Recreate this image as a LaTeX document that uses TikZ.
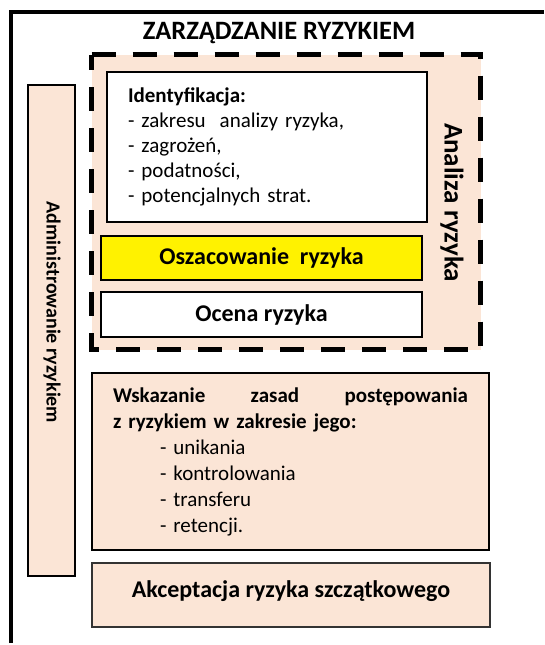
\documentclass[tikz,border=0pt]{standalone}
\usepackage{fontspec}
\setmainfont{Carlito}
\definecolor{peach}{HTML}{FBE5D6}
\begin{document}
\begin{tikzpicture}[x=1pt, y=-1pt,
		box/.style={draw=black, line width=1.5pt, inner sep=0pt},
		body/.style={font=\fontsize{21}{25}\selectfont},
		head/.style={font=\bfseries\fontsize{24}{28}\selectfont}]
		% Page
		\useasboundingbox (0,0) rectangle (544,645);
		
		% Outer frame
		\draw[line width=4.5pt] (11,643) -- (11,12) -- (544,12);
		\node[font=\bfseries\fontsize{26.5}{30}\selectfont] (title) at (279,33.5) {ZARZĄDZANIE RYZYKIEM};
		
		% Risk analysis area
		\draw[fill=peach, line width=5.5pt, dash pattern=on 24pt off 17pt]
		(91.5,54.5) -- (480.5,54.5) -- (480.5,349.5) -- (91.5,349.5) -- cycle;
		\node[box, fill=white, minimum width=320pt, minimum height=150pt,
		text width=278pt, align=left, body] (ident) at (267,147)
		{\textbf{Identyfikacja:}\\- zakresu\ \ analizy ryzyka,\\- zagrożeń,\\- podatności,\\- potencjalnych strat.};
		\node[box, fill=yellow, minimum width=321pt, minimum height=44pt, head] (oszac) at (261.5,258) {Oszacowanie\ \ ryzyka};
		\node[box, fill=white, minimum width=321pt, minimum height=45pt, head] (ocena) at (261.5,314.5) {Ocena ryzyka};
		\node[rotate=-90, font=\bfseries\fontsize{27}{30}\selectfont] (analiza) at (452,202.5) {Analiza ryzyka};
		
		% Administration
		\node[box, fill=peach, minimum width=47pt, minimum height=491pt] (admin) at (51.5,330.5) {};
		\node[rotate=-90, font=\bfseries\fontsize{20}{24}\selectfont] (admintxt) at (52,312.5) {Administrowanie ryzykiem};
		
		% Handling and acceptance
		\node[box, fill=peach, minimum width=397pt, minimum height=177pt,
		text width=355pt, align=left, font=\fontsize{21}{26}\selectfont] (wskaz) at (290.5,461.5)
		{\textbf{\makebox[355pt][s]{Wskazanie\hfill zasad\hfill postępowania}}\\
			\textbf{z ryzykiem w zakresie jego:}\\
			\hspace*{47pt}- unikania\\
			\hspace*{47pt}- kontrolowania\\
			\hspace*{47pt}- transferu\\
			\hspace*{47pt}- retencji.};
		\node[box, draw=black!80, line width=2pt, fill=peach, minimum width=398pt, minimum height=64pt,
		text depth=11pt, head] (akcept) at (291,595) {Akceptacja ryzyka szczątkowego};
		\end{tikzpicture}
\end{document}
